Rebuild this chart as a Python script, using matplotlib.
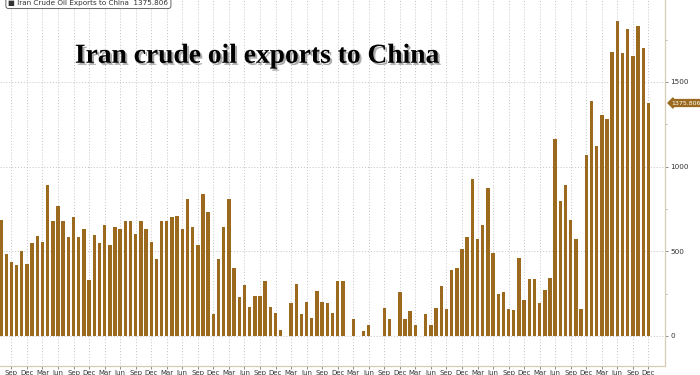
import matplotlib.pyplot as plt
import matplotlib.patheffects as pe
import numpy as np
import pandas as pd

# monthly exports, Jul 2013 .. Dec 2023 (kbd)
months = pd.date_range("2013-07-01", "2023-12-01", freq="MS")
exports = [
    682, 485, 434, 420, 499, 424, 548, 588, 552, 893,
    676, 769, 676, 582, 702, 582, 633, 331, 594, 548,
    657, 534, 643, 631, 676, 676, 602, 676, 631, 552,
    454, 676, 676, 700, 710, 631, 809, 643, 534, 838,
    732, 130, 454, 643, 809, 400, 227, 302, 168, 233,
    238, 322, 168, 134, 33, 0, 193, 306, 130, 199,
    103, 266, 201, 193, 134, 324, 324, 0, 99, 0,
    30, 65, 0, 0, 166, 99, 0, 258, 99, 145,
    66, 0, 130, 65, 164, 292, 158, 387, 402, 515,
    582, 929, 572, 656, 872, 489, 248, 258, 158, 154,
    461, 213, 337, 337, 195, 272, 341, 1166, 799, 893,
    686, 574, 158, 1067, 1390, 1120, 1303, 1284, 1679, 1860,
    1673, 1815, 1653, 1830, 1702, 1375.806,
]
last_value = exports[-1]
title = "Iran crude oil exports to China"
legend_label = "Iran Crude Oil Exports to China  1375.806"

bar_color = "#9C6A1F"
grid_color = "#c4c4c4"

fig = plt.figure(figsize=(7, 3.75), dpi=100)
ax = fig.add_axes([0.0, 9 / 375, 665 / 700, 370 / 375])

x = np.arange(len(exports))
ax.bar(x, exports, width=0.66, color=bar_color, zorder=2)

ax.set_xlim(-0.2, 128.2)
ax.set_ylim(-178, 2008)

# quarterly ticks
q_idx = [i for i, m in enumerate(months) if m.month in (3, 6, 9, 12)]
ax.set_xticks(q_idx)
ax.set_xticklabels([months[i].strftime("%b") for i in q_idx])

ax.yaxis.tick_right()
ax.set_yticks([0, 500, 1000, 1500, 2000])
ax.set_yticks([250, 750, 1250, 1750], minor=True)

ax.grid(True, which="major", color=grid_color, linestyle=(0, (1, 2)), linewidth=0.7, zorder=0)

for s in ["left", "top"]:
    ax.spines[s].set_visible(False)
for s in ["right", "bottom"]:
    ax.spines[s].set_color("#d8ccb4")
    ax.spines[s].set_linewidth(0.9)

ax.tick_params(axis="x", length=2, width=0.6, color="#777777", labelsize=5,
               labelcolor="#333333", pad=0.8)
ax.tick_params(axis="y", which="major", length=2.5, width=0.6, color="#777777",
               labelsize=5.2, labelcolor="#333333", pad=1.5)
ax.tick_params(axis="y", which="minor", length=1.5, width=0.5, color="#999999")

# last value tag on the right axis
ax.text(1.01, last_value, f"{last_value:.3f}", transform=ax.get_yaxis_transform(),
        ha="left", va="center", fontsize=4.5, color="white",
        bbox=dict(boxstyle="larrow,pad=0.15", fc=bar_color, ec=bar_color), clip_on=False)

# cropped legend box at top left
fig.text(0.012, 0.992, "\u25a0 " + legend_label, ha="left", va="center", fontsize=5.2,
         color="#333333",
         bbox=dict(boxstyle="round,pad=0.35", fc="white", ec="#666666", lw=0.7))

# big title with shadow
fig.text(0.107, 0.85, title, ha="left", va="center", fontsize=19.8,
         fontweight="bold", family="Liberation Serif", color="black",
         path_effects=[pe.withSimplePatchShadow(offset=(1.5, -1.5), shadow_rgbFace="#888888", alpha=0.7)])

fig.savefig("out.png", dpi=100, facecolor="white")
